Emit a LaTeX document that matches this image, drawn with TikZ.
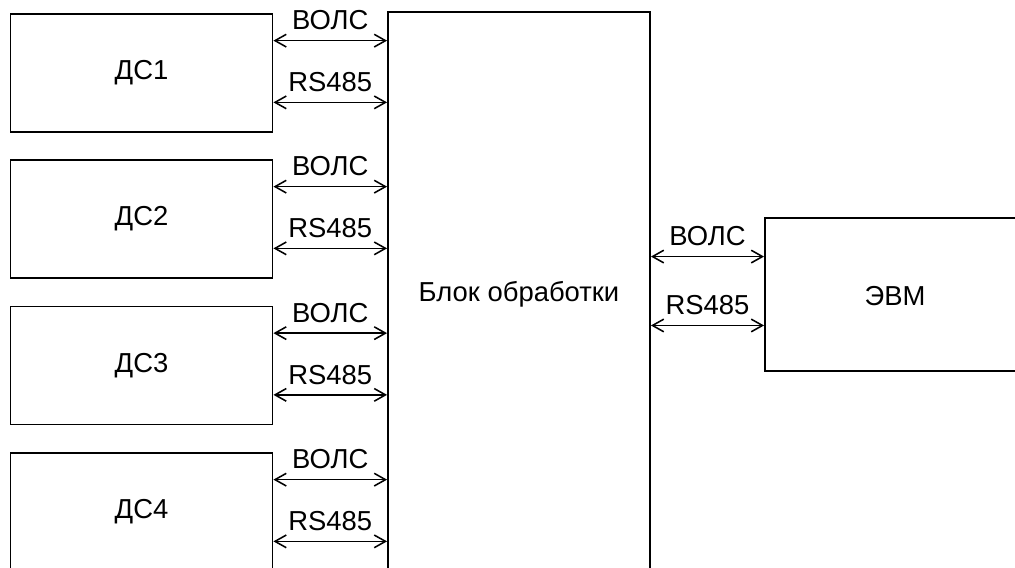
\documentclass[tikz,border=0pt]{standalone}
\usepackage{fontspec}
\setmainfont{Liberation Sans}
\usetikzlibrary{arrows.meta,calc}

\begin{document}
\begin{tikzpicture}[
  x=0.025cm, y=-0.025cm,
  font=\fontsize{19.5}{23}\selectfont,
  box/.style={draw=black, line width=1.3pt, inner sep=0pt},
  link/.style={line width=1.1pt, {Straight Barb[length=8pt,width=9pt]}-{Straight Barb[length=8pt,width=9pt]}},
  lab/.style={above=3.5pt}
]
\useasboundingbox (0,0) rectangle (1015,567);
\clip (0,0) rectangle (1015,567);

% processing unit, runs off the bottom
\node[box, minimum width=6.55cm, minimum height=14.1cm] (blk) at (519,294) {Блок обработки};

% host computer, runs off the right
\node[box, minimum width=7.2cm, minimum height=3.825cm] (evm) at (909,294.5) {};
\node (evmtxt) at (895,296) {ЭВМ};
\coordinate (evmvols) at ($(evm.north west)!0.255!(evm.south west)$);
\coordinate (evmrs) at ($(evm.north west)!0.70!(evm.south west)$);
\draw[link] (evmvols -| blk.east) -- (evmvols) node[midway, lab] {ВОЛС};
\draw[link] (evmrs -| blk.east) -- (evmrs) node[midway, lab] {RS485};

% sensors
\foreach \i/\y in {1/73,2/219,3/365.5,4/512} {
  \node[box, minimum width=6.55cm, minimum height=2.95cm] (ds\i) at (141.5,\y) {ДС\i};
  \coordinate (vols\i) at ($(ds\i.north east)!0.23!(ds\i.south east)$);
  \coordinate (rs\i) at ($(ds\i.north east)!0.745!(ds\i.south east)$);
  \draw[link] (vols\i) -- (vols\i -| blk.west) node[midway, lab] {ВОЛС};
  \draw[link] (rs\i) -- (rs\i -| blk.west) node[midway, lab] {RS485};
}
\end{tikzpicture}
\end{document}
